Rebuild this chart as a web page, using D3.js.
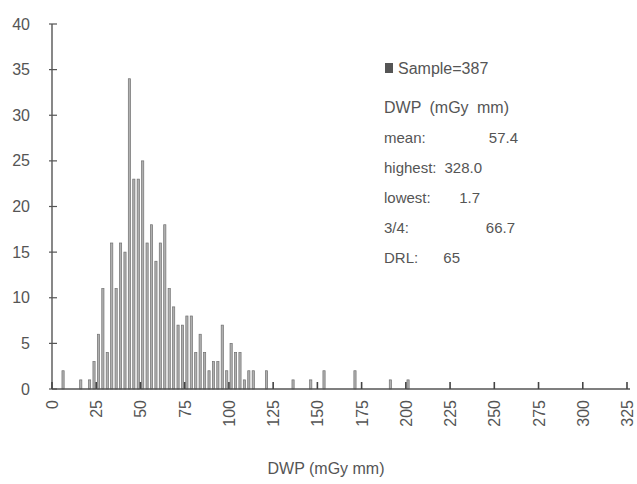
<!DOCTYPE html>
<html>
<head>
<meta charset="utf-8">
<script src="https://cdn.jsdelivr.net/npm/d3@7"></script>
<style>
  body { margin: 0; background: #fff; }
  text { font-family: "Liberation Sans", Arial, sans-serif; fill: #555; }
</style>
</head>
<body>
<div id="chart"></div>
<script>
// DWP bin lower edges (mGy mm), bins are 2.5 wide
var binStart = [5, 15, 20, 22.5, 25, 27.5, 30, 32.5, 35, 37.5, 40, 42.5, 45, 47.5,
  50, 52.5, 55, 57.5, 60, 62.5, 65, 67.5, 70, 72.5, 75, 77.5, 80, 82.5, 85, 87.5,
  90, 92.5, 95, 97.5, 100, 102.5, 105, 107.5, 110, 112.5, 120, 135, 145, 152.5,
  170, 190, 200];
var counts = [2, 1, 1, 3, 6, 11, 4, 16, 11, 16, 15, 34, 23, 23,
  25, 16, 18, 14, 16, 18, 11, 9, 7, 7, 8, 8, 4, 6, 4, 2,
  3, 3, 7, 2, 5, 4, 4, 1, 2, 2, 2, 1, 1, 2,
  2, 1, 1];
var xTicks = [0, 25, 50, 75, 100, 125, 150, 175, 200, 225, 250, 275, 300, 325];
var yTicks = [0, 5, 10, 15, 20, 25, 30, 35, 40];
var statLabels = ["mean:", "highest:", "lowest:", "3/4:", "DRL:"];
var statValues = ["57.4", "328.0", "1.7", "66.7", "65"];

var width = 637, height = 484;
var svg = d3.select("#chart").append("svg")
  .attr("width", width)
  .attr("height", height);

var x = d3.scaleLinear().domain([0, 325]).range([52, 627]);
var y = d3.scaleLinear().domain([0, 40]).range([389, 24]);

// bars
svg.selectAll("rect.bar")
  .data(binStart)
  .enter().append("rect")
    .attr("class", "bar")
    .attr("x", function(d){ return x(d + 1.25) - 1.1; })
    .attr("width", 2.2)
    .attr("y", function(d, i){ return y(counts[i]); })
    .attr("height", function(d, i){ return y(0) - y(counts[i]); })
    .attr("fill", "#b0b0b0")
    .attr("stroke", "#707070")
    .attr("stroke-width", 0.7);

// y axis
svg.append("line")
  .attr("x1", 52).attr("x2", 52)
  .attr("y1", y(40)).attr("y2", y(0))
  .attr("stroke", "#555").attr("stroke-width", 1.4);

svg.selectAll("line.ytick")
  .data(yTicks)
  .enter().append("line")
    .attr("class", "ytick")
    .attr("x1", 49).attr("x2", 57)
    .attr("y1", function(d){ return y(d); })
    .attr("y2", function(d){ return y(d); })
    .attr("stroke", "#555").attr("stroke-width", 1.2);

svg.selectAll("text.ylab")
  .data(yTicks)
  .enter().append("text")
    .attr("class", "ylab")
    .attr("x", 30)
    .attr("y", function(d){ return y(d); })
    .attr("dy", "0.35em")
    .attr("text-anchor", "end")
    .attr("font-size", 16)
    .text(function(d){ return d; });

// x axis
svg.append("line")
  .attr("x1", 52).attr("x2", 630)
  .attr("y1", y(0)).attr("y2", y(0))
  .attr("stroke", "#555").attr("stroke-width", 1.4);

svg.selectAll("line.xtick")
  .data(xTicks)
  .enter().append("line")
    .attr("class", "xtick")
    .attr("x1", function(d){ return x(d); })
    .attr("x2", function(d){ return x(d); })
    .attr("y1", y(0)).attr("y2", y(0) - 7)
    .attr("stroke", "#444").attr("stroke-width", 1.6);

svg.selectAll("text.xlab")
  .data(xTicks)
  .enter().append("text")
    .attr("class", "xlab")
    .attr("transform", function(d){ return "translate(" + (x(d) + 6) + "," + 400 + ") rotate(-90)"; })
    .attr("text-anchor", "end")
    .attr("font-size", 16)
    .text(function(d){ return d; });

svg.append("text")
  .attr("x", 326).attr("y", 474)
  .attr("text-anchor", "middle")
  .attr("font-size", 16)
  .text("DWP (mGy mm)");

// legend and stats
svg.append("rect")
  .attr("x", 385).attr("y", 63)
  .attr("width", 8).attr("height", 10)
  .attr("fill", "#555");
svg.append("text")
  .attr("x", 398).attr("y", 74)
  .attr("font-size", 16)
  .text("Sample=387");

svg.append("text")
  .attr("x", 384).attr("y", 113)
  .attr("font-size", 16)
  .attr("word-spacing", 4)
  .text("DWP (mGy mm)");

var valueX = [518, 482, 480, 515, 460];
svg.selectAll("text.slab")
  .data(statLabels)
  .enter().append("text")
    .attr("class", "slab")
    .attr("x", 384)
    .attr("y", function(d, i){ return 143 + 30 * i; })
    .attr("font-size", 15)
    .text(function(d){ return d; });

svg.selectAll("text.sval")
  .data(statValues)
  .enter().append("text")
    .attr("class", "sval")
    .attr("x", function(d, i){ return valueX[i]; })
    .attr("y", function(d, i){ return 143 + 30 * i; })
    .attr("text-anchor", "end")
    .attr("font-size", 15)
    .text(function(d){ return d; });
</script>
</body>
</html>
